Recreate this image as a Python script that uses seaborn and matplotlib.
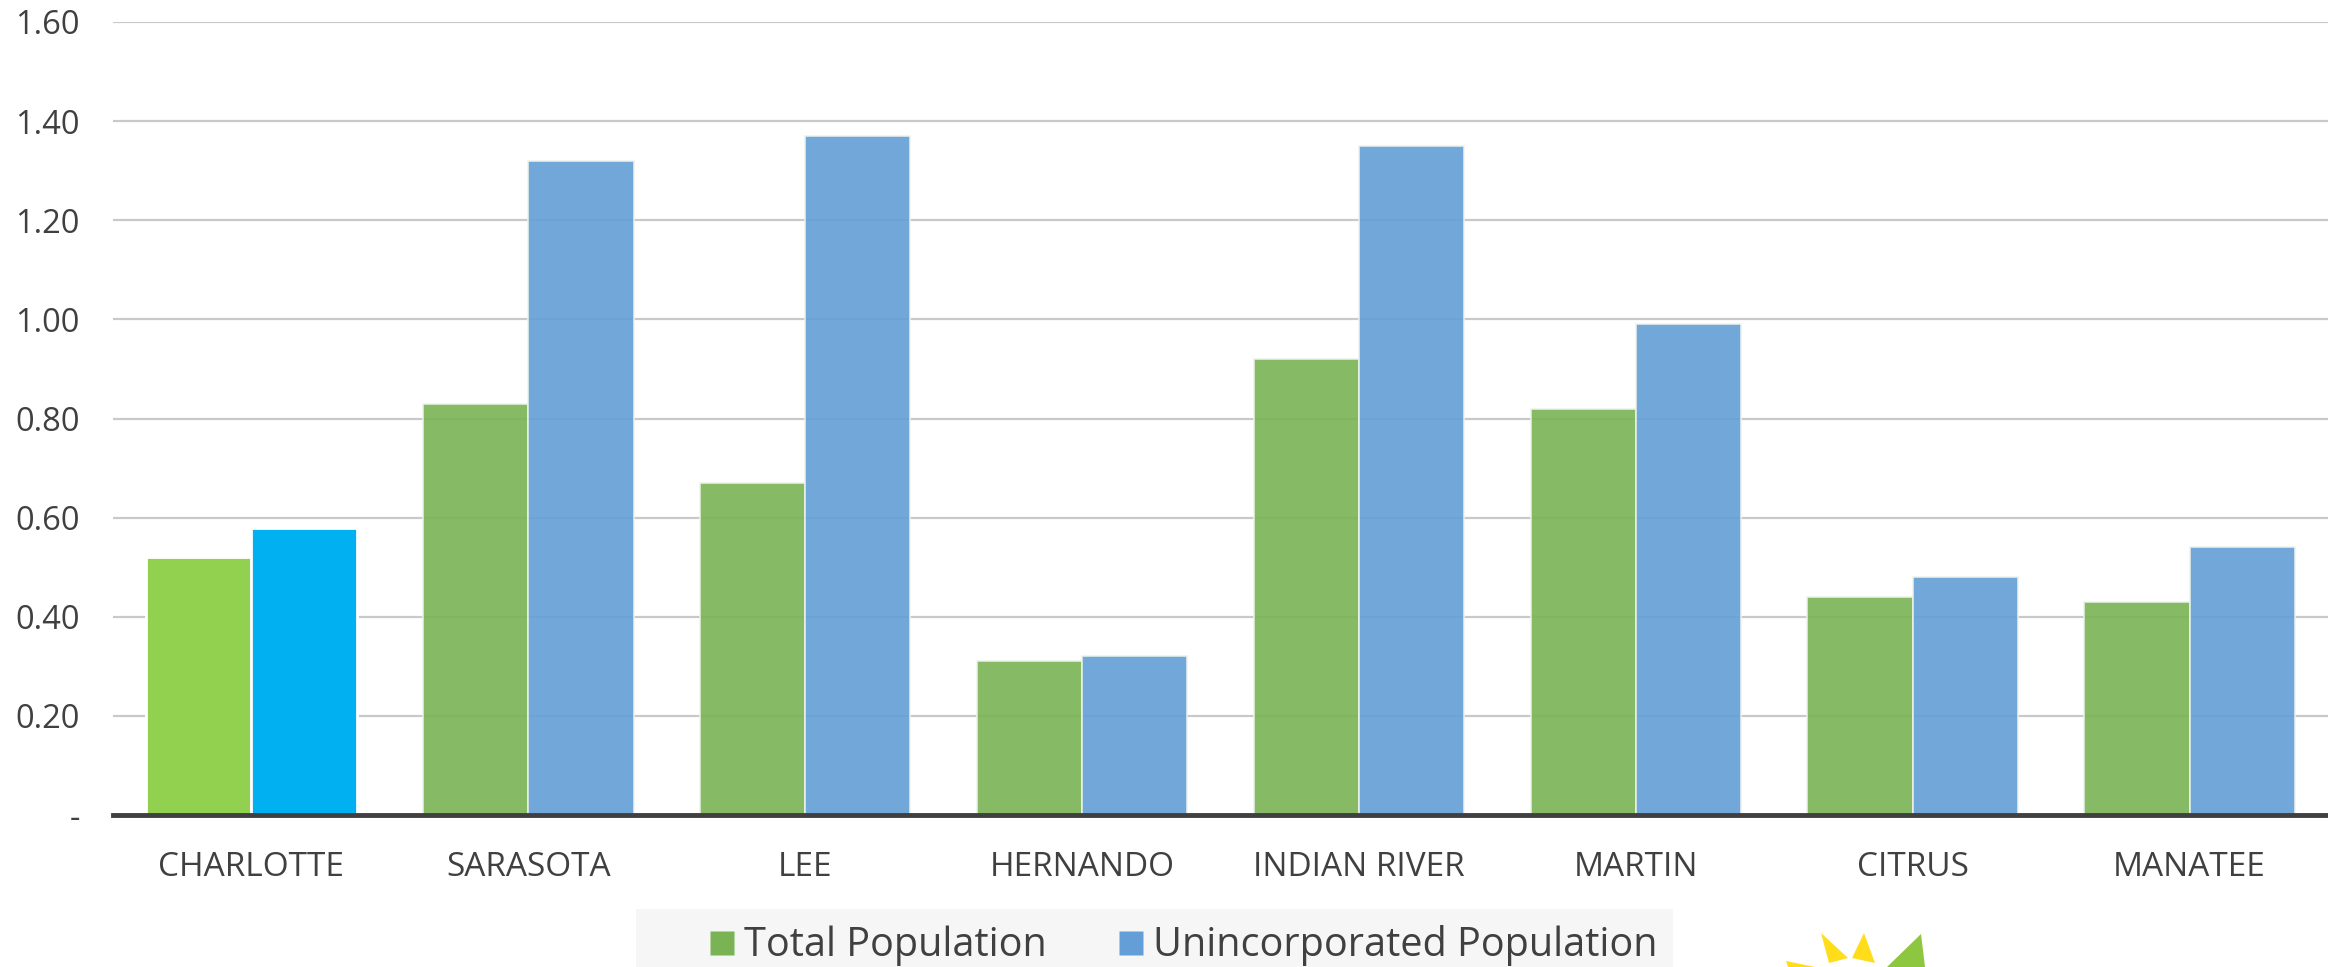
import matplotlib
matplotlib.use("Agg")
import matplotlib.pyplot as plt
from matplotlib.patches import Polygon, Circle, Rectangle, Wedge
from matplotlib.ticker import FuncFormatter
from matplotlib.lines import Line2D
import seaborn as sns
import pandas as pd

# Ratios by county
counties = ["CHARLOTTE", "SARASOTA", "LEE", "HERNANDO", "INDIAN RIVER",
            "MARTIN", "CITRUS", "MANATEE"]
total_population = [0.52, 0.83, 0.67, 0.31, 0.92, 0.82, 0.44, 0.43]
unincorporated_population = [0.58, 1.32, 1.37, 0.32, 1.35, 0.99, 0.48, 0.54]
series_names = ["Total Population", "Unincorporated Population"]
y_ticks = [0.0, 0.2, 0.4, 0.6, 0.8, 1.0, 1.2, 1.4, 1.6]

GREEN = "#79B353"
BLUE = "#639ED6"
HL_GREEN = "#92D050"
HL_BLUE = "#00B0F0"
TEXT = "#404040"

df = pd.DataFrame({
    "County": counties * 2,
    "Ratio": total_population + unincorporated_population,
    "Series": [series_names[0]] * len(counties) + [series_names[1]] * len(counties),
})

sns.set_theme(style="white")
plt.rcParams["font.family"] = ["Open Sans", "DejaVu Sans"]

W, H = 2328.0, 967.0
fig = plt.figure(figsize=(W / 100, H / 100), dpi=100)
ax = fig.add_axes([113 / W, 1 - 815 / H, 1 - 113 / W, (815 - 22) / H])

sns.barplot(data=df, x="County", y="Ratio", hue="Series", order=counties,
            hue_order=series_names, palette=[GREEN, BLUE], saturation=1,
            width=0.76, edgecolor="#EEF3EA", linewidth=1.2, legend=False,
            errorbar=None, ax=ax, zorder=3)

# Highlight the first county with solid, brighter colours; others slightly translucent
for p in ax.patches:
    cx = p.get_x() + p.get_width() / 2
    if cx < 0.5:
        p.set_facecolor(HL_GREEN if cx < 0 else HL_BLUE)
        p.set_edgecolor("#FFFFFF")
        p.set_linewidth(2.0)
        p.set_alpha(1.0)
        p.set_zorder(4)
    else:
        p.set_alpha(0.9)

ax.set_xlim(-0.5, len(counties) - 0.5)
ax.set_ylim(0, 1.6)
ax.set_yticks(y_ticks)
ax.yaxis.set_major_formatter(FuncFormatter(lambda v, _: "-" if abs(v) < 1e-9 else f"{v:.2f}"))
ax.grid(axis="y", color="#C9C9C9", linewidth=1.6, zorder=1)
ax.grid(axis="x", visible=False)
ax.set_axisbelow(True)
ax.set_xlabel("")
ax.set_ylabel("")

for side in ["top", "left", "right"]:
    ax.spines[side].set_visible(False)
ax.spines["bottom"].set_color(TEXT)
ax.spines["bottom"].set_linewidth(3.5)
ax.spines["bottom"].set_zorder(5)

ax.tick_params(axis="y", length=0, pad=24, labelsize=23.5, labelcolor=TEXT)
ax.tick_params(axis="x", length=0, pad=26, labelsize=24, labelcolor=TEXT)

# Legend strip below the axis
fig.add_artist(Rectangle((636 / W, 0), (1673 - 636) / W, 1 - 909 / H,
                         transform=fig.transFigure, facecolor="#F6F6F6",
                         edgecolor="none", zorder=0))
handles = [Line2D([0], [0], marker="s", linestyle="", markersize=17.5,
                  markerfacecolor=c, markeredgecolor="none") for c in (GREEN, BLUE)]
leg = fig.legend(handles, series_names, loc="center left",
                 bbox_to_anchor=(706 / W, 1 - 946 / H), ncol=2,
                 frameon=False, fontsize=28.5, handletextpad=0.15,
                 columnspacing=1.75, borderpad=0, borderaxespad=0,
                 handlelength=0.8, labelcolor=TEXT)

# Partial logo in the lower right corner
def fx(x):
    return x / W
def fy(y):
    return 1 - y / H

logo = [
    Circle((fx(1850), fy(992)), 33 / W, transform=fig.transFigure,
           facecolor="#FFDD1A", edgecolor="white", linewidth=2),
    Polygon([(fx(1821), fy(933)), (fx(1848), fy(958)), (fx(1829), fy(963))],
            closed=True, transform=fig.transFigure, facecolor="#FFDD1A", edgecolor="none"),
    Polygon([(fx(1864), fy(933)), (fx(1875), fy(963)), (fx(1852), fy(958))],
            closed=True, transform=fig.transFigure, facecolor="#FFDD1A", edgecolor="none"),
    Polygon([(fx(1786), fy(961)), (fx(1815), fy(967)), (fx(1788), fy(967))],
            closed=True, transform=fig.transFigure, facecolor="#FFDD1A", edgecolor="none"),
    Polygon([(fx(1887), fy(967)), (fx(1921), fy(934)), (fx(1925), fy(967))],
            closed=True, transform=fig.transFigure, facecolor="#8DC63F", edgecolor="none"),
    Wedge((fx(1959), fy(982)), 17 / W, 20, 160, width=7 / W, transform=fig.transFigure,
          facecolor="#1E7FD0", edgecolor="none"),
    Wedge((fx(2211), fy(982)), 17 / W, 20, 160, width=7 / W, transform=fig.transFigure,
          facecolor="#1E7FD0", edgecolor="none"),
]
for a in logo:
    fig.add_artist(a)

fig.savefig("out.png", dpi=100, facecolor="white")
